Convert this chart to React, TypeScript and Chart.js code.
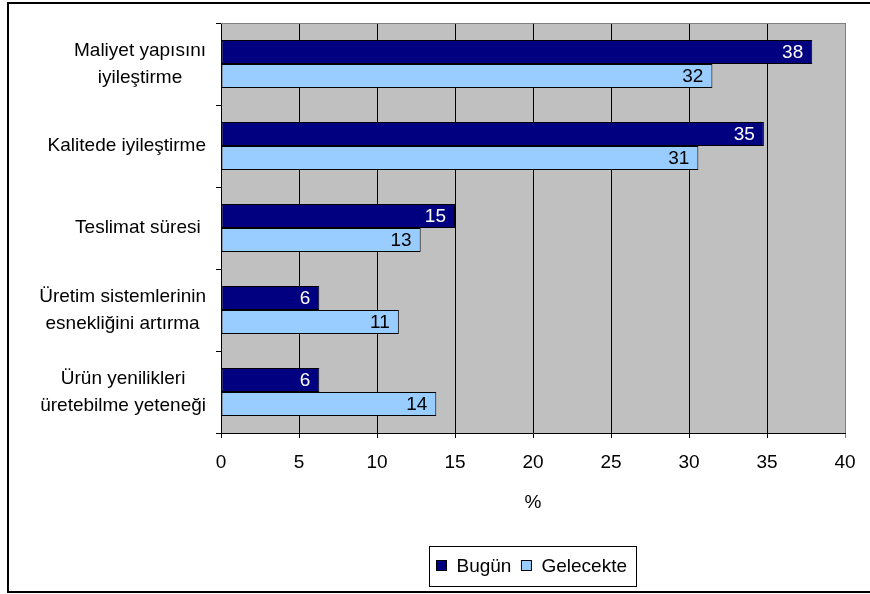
import React, { useEffect, useRef } from "react";
import { Chart, registerables, Plugin } from "chart.js";

Chart.register(...registerables);

const categories: string[][] = [
  ["Maliyet yapısını", "iyileştirme"],
  ["Kalitede iyileştirme"],
  ["Teslimat süresi "],
  ["Üretim sistemlerinin", "esnekliğini artırma"],
  ["Ürün yenilikleri", "üretebilme yeteneği"],
];
const seriesNames = ["Bugün", "Gelecekte"];
const bugun = [37.9, 34.8, 15.0, 6.3, 6.3];
const gelecekte = [31.5, 30.6, 12.8, 11.4, 13.8];
const seriesColors = ["#000080", "#99CCFF"];
const labelColors = ["#FFFFFF", "#000000"];
const xMin = 0;
const xMax = 40;
const xStep = 5;

const FONT = '"Liberation Sans", Arial, sans-serif';

// grey plot area, page frame
const backgroundPlugin: Plugin = {
  id: "background",
  beforeDraw(chart) {
    const { ctx, chartArea } = chart;
    ctx.save();
    ctx.fillStyle = "#FFFFFF";
    ctx.fillRect(0, 0, chart.width, chart.height);
    ctx.fillStyle = "#C0C0C0";
    ctx.fillRect(chartArea.left, chartArea.top, chartArea.right - chartArea.left, chartArea.bottom - chartArea.top);
    ctx.restore();
  },
  beforeDatasetsDraw(chart) {
    const { ctx, chartArea } = chart;
    ctx.save();
    ctx.strokeStyle = "#808080";
    ctx.lineWidth = 1;
    ctx.beginPath();
    ctx.moveTo(chartArea.left, chartArea.top + 0.5);
    ctx.lineTo(chartArea.right + 0.5, chartArea.top + 0.5);
    ctx.lineTo(chartArea.right + 0.5, chartArea.bottom);
    ctx.stroke();
    ctx.restore();
  },
  afterDraw(chart) {
    const { ctx } = chart;
    ctx.save();
    ctx.strokeStyle = "#000000";
    ctx.lineWidth = 2;
    ctx.beginPath();
    ctx.moveTo(chart.width + 2, 3);
    ctx.lineTo(8, 3);
    ctx.lineTo(8, 592);
    ctx.lineTo(chart.width + 2, 592);
    ctx.stroke();
    ctx.restore();
  },
};

const valueLabelPlugin: Plugin = {
  id: "valueLabels",
  afterDatasetsDraw(chart) {
    const { ctx } = chart;
    ctx.save();
    ctx.font = `19px ${FONT}`;
    ctx.textAlign = "right";
    ctx.textBaseline = "middle";
    chart.data.datasets.forEach((ds, di) => {
      const meta = chart.getDatasetMeta(di);
      ctx.fillStyle = labelColors[di];
      meta.data.forEach((el: any, i) => {
        const v = ds.data[i] as number;
        ctx.fillText(String(Math.round(v)), el.x - 9, el.y + 1);
      });
    });
    ctx.restore();
  },
};

const categoryLabelPlugin: Plugin = {
  id: "categoryLabels",
  afterDraw(chart) {
    const { ctx } = chart;
    const yScale = chart.scales.y;
    const right = 206;
    const lineH = 27;
    ctx.save();
    ctx.font = `19px ${FONT}`;
    ctx.fillStyle = "#000000";
    ctx.textAlign = "center";
    ctx.textBaseline = "middle";
    categories.forEach((lines, i) => {
      const cy = yScale.getPixelForValue(i);
      const w = Math.max(...lines.map((l) => ctx.measureText(l).width));
      const cx = right - w / 2;
      const y0 = cy - ((lines.length - 1) * lineH) / 2;
      lines.forEach((l, j) => ctx.fillText(l, cx, y0 + j * lineH));
    });
    ctx.restore();
  },
};

const legendPlugin: Plugin = {
  id: "boxLegend",
  afterDraw(chart) {
    const { ctx, chartArea } = chart;
    ctx.save();
    ctx.font = `19px ${FONT}`;
    ctx.textBaseline = "middle";
    ctx.textAlign = "left";
    const box = 10;
    const gap = 10;
    const widths = seriesNames.map((n) => ctx.measureText(n).width);
    const itemsW = widths.reduce((a, w) => a + box + gap + w, 0) + gap * (seriesNames.length - 1);
    const padL = 7;
    const padR = 10;
    const totalW = itemsW + padL + padR;
    const cx = (chartArea.left + chartArea.right) / 2;
    const left = Math.round(cx - totalW / 2) + 0.5;
    const top = 546.5;
    const h = 40;
    ctx.strokeStyle = "#000000";
    ctx.lineWidth = 1;
    ctx.strokeRect(left, top, Math.round(totalW), h);
    let x = left + padL;
    const cy = top + h / 2;
    seriesNames.forEach((n, i) => {
      ctx.fillStyle = seriesColors[i];
      ctx.fillRect(x, cy - box / 2 - 1, box, box);
      ctx.strokeRect(x, cy - box / 2 - 1, box, box);
      x += box + gap;
      ctx.fillStyle = "#000000";
      ctx.fillText(n, x, cy);
      x += widths[i] + gap;
    });
    ctx.restore();
  },
};

const App: React.FC = () => {
  const canvasRef = useRef<HTMLCanvasElement | null>(null);

  useEffect(() => {
    const ctx = canvasRef.current?.getContext("2d");
    if (!ctx) return;
    const chart = new Chart(ctx, {
      type: "bar",
      data: {
        labels: categories.map((c) => c.join(" ")),
        datasets: [
          {
            label: seriesNames[0],
            data: bugun,
            backgroundColor: seriesColors[0],
            borderColor: "#000000",
            borderWidth: 1,
            borderSkipped: false,
          },
          {
            label: seriesNames[1],
            data: gelecekte,
            backgroundColor: seriesColors[1],
            borderColor: "#000000",
            borderWidth: 1,
            borderSkipped: false,
          },
        ],
      },
      options: {
        indexAxis: "y",
        responsive: false,
        animation: false,
        devicePixelRatio: 1,
        categoryPercentage: 0.585,
        barPercentage: 1,
        layout: { padding: { top: 23, right: 25, bottom: 0, left: 0 } },
        plugins: {
          legend: { display: false },
          tooltip: { enabled: false },
        },
        scales: {
          x: {
            type: "linear",
            min: xMin,
            max: xMax,
            ticks: {
              stepSize: xStep,
              color: "#000000",
              font: { family: FONT, size: 19 },
              padding: 13,
            },
            grid: {
              color: (c: any) => (c.tick && c.tick.value === xMax ? "#808080" : "#000000"),
              tickLength: 5,
              lineWidth: 1,
            },
            border: { color: "#000000", width: 1 },
            title: {
              display: true,
              text: "%",
              color: "#000000",
              font: { family: FONT, size: 19 },
              padding: { top: 0, bottom: 80 },
            },
            afterFit: (s: any) => {
              s.height = 161;
            },
          },
          y: {
            ticks: { display: false },
            grid: { drawOnChartArea: false, tickLength: 5, color: "#000000" },
            border: { color: "#000000", width: 1 },
            afterFit: (s: any) => {
              s.width = 221;
            },
          },
        },
      },
      plugins: [backgroundPlugin, valueLabelPlugin, categoryLabelPlugin, legendPlugin],
    });
    return () => chart.destroy();
  }, []);

  return (
    <div style={{ position: "fixed", left: 0, top: 0, width: 870, height: 594, background: "#fff" }}>
      <canvas ref={canvasRef} width={870} height={594} style={{ display: "block" }} />
    </div>
  );
};

export default App;
